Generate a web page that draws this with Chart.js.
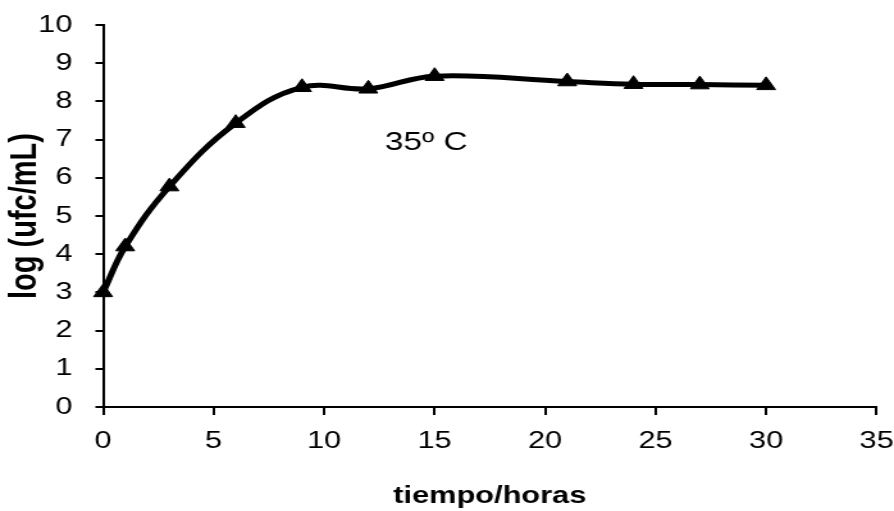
<!DOCTYPE html>
<html>
<head>
<meta charset="utf-8">
<script src="https://cdn.jsdelivr.net/npm/chart.js@4/dist/chart.umd.min.js"></script>
<style>
html,body{margin:0;padding:0;background:#fff;overflow:hidden;width:894px;height:511px;}
#wrap{width:698px;height:511px;transform:scaleX(1.2808);transform-origin:0 0;}
canvas{display:block;}
</style>
</head>
<body>
<div id="wrap"><canvas id="c" width="698" height="511"></canvas></div>
<script>
const hours = [0, 1, 3, 6, 9, 12, 15, 21, 24, 27, 30];
const logUfc = [3.0, 4.2, 5.77, 7.43, 8.37, 8.33, 8.66, 8.52, 8.45, 8.44, 8.42];
const xTicks = [0, 5, 10, 15, 20, 25, 30, 35];
const yTicks = [0, 1, 2, 3, 4, 5, 6, 7, 8, 9, 10];
const annotationText = "35º C";
const annotationPos = { x: 12.75, y: 6.92 };

const FONT = "'Liberation Sans', Arial, sans-serif";

const annotationPlugin = {
  id: 'annot',
  afterDatasetsDraw(chart) {
    const ctx = chart.ctx;
    const x = chart.scales.x.getPixelForValue(annotationPos.x);
    const y = chart.scales.y.getPixelForValue(annotationPos.y);
    ctx.save();
    ctx.font = "26px " + FONT;
    ctx.fillStyle = '#000';
    ctx.textAlign = 'left';
    ctx.textBaseline = 'middle';
    ctx.fillText(annotationText, x, y);
    ctx.restore();
  }
};

function zeroPad(s) {
  s.paddingLeft = 0; s.paddingRight = 0; s.paddingTop = 0; s.paddingBottom = 0;
}

new Chart(document.getElementById('c'), {
  type: 'scatter',
  data: {
    datasets: [{
      data: hours.map((h, i) => ({ x: h, y: logUfc[i] })),
      showLine: true,
      tension: 0.4,
      borderColor: '#000',
      borderWidth: 5,
      pointStyle: 'triangle',
      pointRadius: 8.5,
      pointBackgroundColor: '#000',
      pointBorderColor: '#000',
      pointBorderWidth: 1,
      clip: false
    }]
  },
  options: {
    responsive: false,
    animation: false,
    layout: { padding: { top: 25, right: 13.6, left: 0, bottom: 0 } },
    plugins: { legend: { display: false }, tooltip: { enabled: false } },
    scales: {
      x: {
        type: 'linear',
        min: 0, max: 35,
        afterBuildTicks: s => { s.ticks = xTicks.map(v => ({ value: v })); },
        afterFit: s => { s.height = 104; zeroPad(s); },
        grid: { display: true, drawOnChartArea: false, drawTicks: true, tickLength: 8, color: '#000', lineWidth: 2 },
        border: { display: true, color: '#000', width: 2 },
        ticks: { color: '#000', font: { family: FONT, size: 24 }, padding: 12, maxRotation: 0 },
        title: { display: true, text: 'tiempo/horas', color: '#000', font: { family: FONT, size: 24, weight: 'bold' }, padding: { top: 0, bottom: 0 } }
      },
      y: {
        type: 'linear',
        min: 0, max: 10,
        afterBuildTicks: s => { s.ticks = yTicks.map(v => ({ value: v })); },
        afterFit: s => { s.width = 80.5; zeroPad(s); },
        grid: { display: true, drawOnChartArea: false, drawTicks: true, tickLength: 6, color: '#000', lineWidth: 2 },
        border: { display: true, color: '#000', width: 2 },
        ticks: { color: '#000', font: { family: FONT, size: 24 }, padding: 18 },
        title: { display: true, text: 'log (ufc/mL)', color: '#000', font: { family: FONT, size: 29, weight: 'bold' }, padding: { top: 3, bottom: 0 } }
      }
    }
  },
  plugins: [annotationPlugin]
});
</script>
</body>
</html>
